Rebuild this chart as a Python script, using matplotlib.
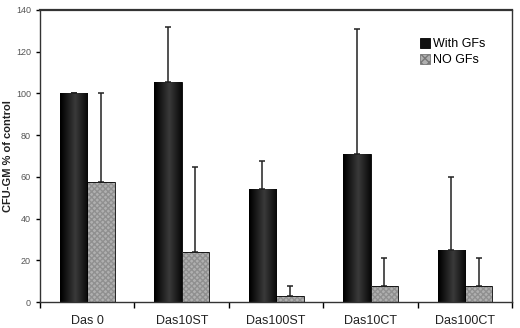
import numpy as np
import matplotlib
matplotlib.use("Agg")
import matplotlib.pyplot as plt
from matplotlib.colors import LinearSegmentedColormap
from matplotlib.patches import Patch

plt.rcParams["font.family"] = ["Liberation Sans", "DejaVu Sans"]

categories = ["Das 0", "Das10ST", "Das100ST", "Das10CT", "Das100CT"]
with_gfs = [100, 105.5, 54, 71, 25]
with_gfs_err = [0, 26.5, 13.5, 60, 34.7]
no_gfs = [57.7, 23.9, 2.8, 7.6, 7.6]
no_gfs_err = [42.3, 40.7, 4.9, 13.5, 13.5]
yticks = [0, 20, 40, 60, 80, 100, 120, 140]

fig = plt.figure(figsize=(5.2, 3.28), dpi=100)
ax = fig.add_axes([0.077, 0.079, 0.908, 0.891])

x = np.arange(len(categories))
w = 0.29

b1 = ax.bar(x - w / 2, with_gfs, w, color="#111111", edgecolor="black", linewidth=0.6,
            label="With GFs", zorder=2)
grad = np.linspace(0, 1, 64)
grad = 1 - np.abs(grad - 0.55) * 1.9
grad = np.clip(grad, 0, 1)[None, :]
cm = LinearSegmentedColormap.from_list("blk", ["#000000", "#3a3a3a"])
for r in b1:
    x0, y0 = r.get_x(), r.get_y()
    im = ax.imshow(grad, extent=[x0, x0 + r.get_width(), y0, y0 + r.get_height()],
                   aspect="auto", cmap=cm, vmin=0, vmax=1, zorder=2.1, interpolation="bilinear")
    im.set_clip_path(r)

ax.bar(x + w / 2, no_gfs, w, color="#b0b0b0", edgecolor="#909090", hatch="xxxxxx",
       linewidth=0, zorder=2)
ax.bar(x + w / 2, no_gfs, w, fill=False, edgecolor="black", linewidth=0.6, zorder=2.2)

ax.errorbar(x - w / 2, with_gfs, yerr=[np.zeros(5), with_gfs_err], fmt="none",
            ecolor="#222222", elinewidth=1.1, capsize=2.5, capthick=1.1, zorder=3)
ax.errorbar(x + w / 2, no_gfs, yerr=[np.zeros(5), no_gfs_err], fmt="none",
            ecolor="#222222", elinewidth=1.1, capsize=2.5, capthick=1.1, zorder=3)

ax.set_xlim(-0.5, 4.5)
ax.set_ylim(0, 140)
ax.set_yticks(yticks)
ax.set_xticks(x)
ax.set_xticklabels(categories, fontsize=9, color="#222222")
ax.set_xticks(np.arange(-0.5, 5, 1), minor=True)
ax.tick_params(axis="x", which="major", length=0, pad=9)
ax.tick_params(axis="x", which="minor", length=4, direction="out", width=1)
ax.tick_params(axis="y", length=3, direction="out", labelsize=6.5, labelcolor="#555555", width=1)
for s in ax.spines.values():
    s.set_linewidth(1.0)
    s.set_color("#333333")
ax.spines["top"].set_linewidth(1.6)

ax.set_ylabel("CFU-GM % of control", fontsize=8, fontweight="bold", color="#222222")
ax.yaxis.set_label_coords(-0.058, 0.5)

handles = [Patch(facecolor="#111111", edgecolor="black", linewidth=0.6),
           Patch(facecolor="#b0b0b0", edgecolor="#777777", hatch="xxxx", linewidth=0.6)]
ax.legend(handles, ["With GFs", "NO GFs"], loc="upper left", bbox_to_anchor=(0.795, 0.92),
          frameon=False, fontsize=9, handlelength=0.8, handleheight=0.8, handletextpad=0.2,
          labelspacing=0.3, borderaxespad=0)

fig.savefig("out.png", dpi=100)
